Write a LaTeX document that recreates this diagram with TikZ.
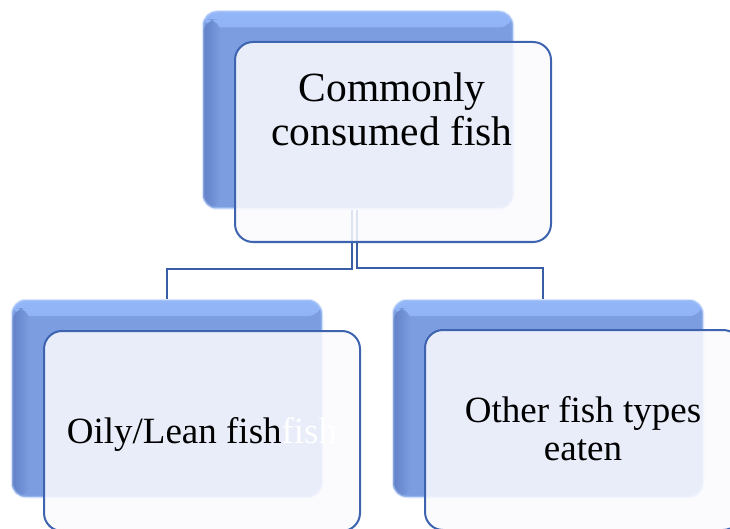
\documentclass[tikz,border=0pt]{standalone}
\usepackage{fontspec}
\setmainfont{Liberation Serif}
\definecolor{backblue}{RGB}{124,158,225}
\definecolor{backtop}{RGB}{146,182,248}
\definecolor{backleft}{RGB}{98,128,198}
\definecolor{edgeblue}{RGB}{62,100,176}
\definecolor{linkblue}{RGB}{58,94,166}
\definecolor{frontfill}{RGB}{250,250,254}
\tikzset{
  backbox/.style={rectangle, rounded corners=14pt, fill=backblue, inner sep=0pt,
    draw=backtop!70, draw opacity=0.45, line width=2.5pt,
    minimum width=310pt, minimum height=197pt,
    path picture={
      \shade[top color=backtop, bottom color=backblue]
        (path picture bounding box.north west) rectangle ([yshift=-16pt]path picture bounding box.north east);
      \shade[left color=backleft, right color=backblue]
        ([yshift=-8pt]path picture bounding box.north west) rectangle ([xshift=18pt]path picture bounding box.south west);
    }},
  frontbox/.style={rectangle, rounded corners=18pt, draw=edgeblue, line width=2pt,
    fill=frontfill, fill opacity=0.86, draw opacity=1, inner sep=0pt,
    minimum width=316pt, minimum height=200pt},
  link/.style={draw=linkblue, line width=2.3pt},
  bigtext/.style={font=\fontsize{41.5}{44}\selectfont, align=center, inner sep=0pt, anchor=base},
  smalltext/.style={font=\fontsize{37}{38}\selectfont, align=center, inner sep=0pt, anchor=base},
}
\begin{document}
\begin{tikzpicture}[x=1pt,y=1pt]
\useasboundingbox (0,0) rectangle (730,-529);
% back boxes
\node[backbox] (backA) at (358,-110) {};
\node[backbox] (backB) at (167,-398.5) {};
\node[backbox] (backC) at (548,-398.5) {};
% connectors
\coordinate (jL) at ([xshift=-6pt]backA.south |- 0,-269);
\coordinate (jR) at ([xshift=-1pt]backA.south |- 0,-268);
\draw[link] ([xshift=-6pt]backA.south) -- (jL) -| (backB.north);
\draw[link] ([xshift=-1pt]backA.south) -- (jR) -| ([xshift=-5pt]backC.north);
% front boxes
\node[frontbox] (frontA) at (393,-142) {};
\node[frontbox] (frontB) at (202,-431) {};
\node[frontbox] (frontC) at (583,-430) {};
% texts
\node[bigtext] (tA) at (392,-146) {Commonly\\consumed fish};
\node[smalltext] (tB) at (202,-443) {Oily/Lean fish\textcolor{white}{fish}};
\node[smalltext] (tC) at (583,-460) {Other fish types\\eaten};
\end{tikzpicture}
\end{document}
